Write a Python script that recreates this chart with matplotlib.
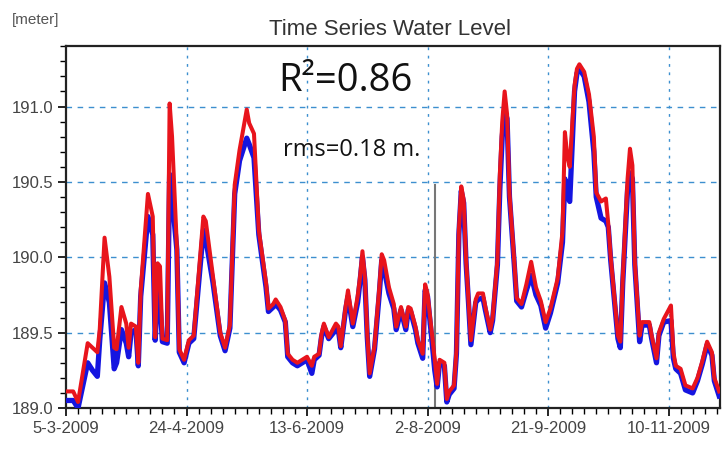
import pandas as pd
import matplotlib.pyplot as plt
import matplotlib.dates as mdates
from matplotlib.ticker import FixedLocator, MultipleLocator, FormatStrFormatter

# days after 5-3-2009
days = [0, 3, 5, 9, 11, 13, 14, 16, 18, 20,
        21, 23, 25, 26, 27, 29, 30, 31, 34, 36,
        37, 38, 39, 40, 42, 43, 44, 46, 47, 49,
        51, 53, 56, 57, 58, 61, 64, 66, 68, 70,
        72, 75, 76, 78, 80, 83, 84, 86, 87, 89,
        91, 92, 94, 96, 98, 100, 102, 103, 105, 106,
        107, 109, 112, 113, 114, 116, 117, 119, 121, 122,
        123, 124, 125, 126, 128, 130, 131, 132, 134, 136,
        137, 139, 141, 142, 143, 145, 146, 148, 149, 150,
        152, 153, 154, 155, 157, 158, 159, 161, 162, 163,
        164, 165, 166, 167, 168, 170, 171, 173, 174, 176,
        177, 179, 180, 181, 182, 183, 184, 186, 187, 189,
        191, 193, 195, 197, 199, 201, 204, 206, 207, 208,
        209, 211, 212, 213, 215, 217, 219, 220, 222, 224,
        225, 226, 228, 229, 230, 231, 233, 234, 235, 236,
        238, 239, 242, 243, 245, 246, 248, 251, 252, 253,
        255, 257, 260, 262, 264, 266, 268, 269, 271]

# red line
observed = [189.11, 189.11, 189.04, 189.43, 189.40, 189.37, 189.52, 190.13, 189.87, 189.40,
            189.39, 189.67, 189.56, 189.40, 189.56, 189.54, 189.30, 189.78, 190.42, 190.27,
            189.47, 189.96, 189.94, 189.46, 189.45, 191.02, 190.80, 190.07, 189.39, 189.32,
            189.45, 189.48, 190.07, 190.27, 190.24, 189.87, 189.50, 189.40, 189.55, 190.48,
            190.71, 190.98, 190.89, 190.82, 190.18, 189.83, 189.66, 189.69, 189.72, 189.67,
            189.58, 189.36, 189.32, 189.30, 189.32, 189.34, 189.28, 189.34, 189.36, 189.49,
            189.56, 189.47, 189.56, 189.54, 189.41, 189.67, 189.78, 189.56, 189.74, 189.87,
            190.04, 189.87, 189.49, 189.23, 189.41, 189.80, 190.02, 189.98, 189.80, 189.69,
            189.54, 189.67, 189.54, 189.67, 189.66, 189.54, 189.45, 189.36, 189.82, 189.76,
            189.47, 189.32, 189.16, 189.32, 189.30, 189.06, 189.11, 189.15, 189.38, 190.18,
            190.47, 190.38, 189.98, 189.72, 189.45, 189.72, 189.76, 189.76, 189.67, 189.52,
            189.60, 189.98, 190.55, 190.90, 191.10, 190.95, 190.42, 189.97, 189.73, 189.69,
            189.82, 189.97, 189.80, 189.71, 189.57, 189.66, 189.86, 190.17, 190.83, 190.67,
            190.60, 191.14, 191.25, 191.28, 191.23, 191.08, 190.80, 190.43, 190.37, 190.39,
            190.22, 190.00, 189.65, 189.48, 189.44, 189.86, 190.52, 190.72, 190.61, 189.97,
            189.48, 189.57, 189.57, 189.48, 189.33, 189.50, 189.59, 189.68, 189.37, 189.28,
            189.26, 189.15, 189.13, 189.20, 189.31, 189.44, 189.37, 189.20, 189.11]

# blue line
simulated = [189.05, 189.05, 189.00, 189.30, 189.25, 189.21, 189.45, 189.83, 189.70, 189.26,
             189.30, 189.52, 189.43, 189.34, 189.50, 189.52, 189.28, 189.74, 190.27, 190.15,
             189.45, 189.78, 189.70, 189.44, 189.43, 190.55, 190.40, 190.05, 189.37, 189.30,
             189.43, 189.46, 190.00, 190.18, 190.12, 189.83, 189.48, 189.38, 189.53, 190.42,
             190.64, 190.79, 190.75, 190.66, 190.15, 189.80, 189.64, 189.67, 189.69, 189.65,
             189.57, 189.34, 189.30, 189.28, 189.30, 189.32, 189.23, 189.32, 189.35, 189.47,
             189.54, 189.46, 189.52, 189.52, 189.40, 189.65, 189.74, 189.54, 189.70, 189.84,
             190.00, 189.85, 189.47, 189.21, 189.39, 189.76, 189.98, 189.92, 189.76, 189.66,
             189.52, 189.65, 189.52, 189.65, 189.64, 189.52, 189.43, 189.33, 189.78, 189.74,
             189.42, 189.25, 189.14, 189.30, 189.28, 189.04, 189.09, 189.13, 189.36, 190.15,
             190.44, 190.36, 189.96, 189.70, 189.42, 189.70, 189.72, 189.73, 189.65, 189.50,
             189.58, 189.95, 190.45, 190.80, 190.97, 190.92, 190.40, 189.95, 189.71, 189.67,
             189.78, 189.88, 189.75, 189.68, 189.53, 189.63, 189.83, 190.10, 190.52, 190.41,
             190.37, 191.10, 191.22, 191.25, 191.20, 191.03, 190.70, 190.40, 190.26, 190.24,
             190.20, 189.98, 189.63, 189.46, 189.40, 189.83, 190.45, 190.56, 190.52, 189.95,
             189.44, 189.55, 189.55, 189.46, 189.30, 189.48, 189.57, 189.58, 189.33, 189.26,
             189.23, 189.12, 189.10, 189.18, 189.29, 189.42, 189.35, 189.18, 189.08]

tick_dates = ['2009-03-05', '2009-04-24', '2009-06-13', '2009-08-02', '2009-09-21', '2009-11-10']
tick_labels = ['5-3-2009', '24-4-2009', '13-6-2009', '2-8-2009', '21-9-2009', '10-11-2009']

start = pd.Timestamp('2009-03-05')
dates = start + pd.to_timedelta(days, unit='D')
end = start + pd.Timedelta(days=271.4)

plt.rcParams['font.family'] = ['Liberation Sans', 'DejaVu Sans']

fig = plt.figure(figsize=(7.22, 4.5), dpi=100)
ax = fig.add_axes([0.0914, 0.0933, 0.906, 0.804])

grid_col = '#3d8fcf'
for v in [189.5, 190.0, 190.5, 191.0]:
    ax.axhline(v, color=grid_col, lw=1, ls=(0, (4, 4)), zorder=1)
for d in tick_dates[1:]:
    ax.axvline(pd.Timestamp(d), color=grid_col, lw=1, ls=(0, (2, 4)), zorder=1)

ax.plot(dates, simulated, color='#1515e0', lw=3.8, zorder=3)
ax.plot(dates, observed, color='#e8141c', lw=2.9, zorder=4)

# marker line near 5-8-2009
ax.plot([start + pd.Timedelta(days=153)] * 2, [189.0, 190.48], color='#777777', lw=1.5, zorder=2)

ax.set_xlim(start, end)
ax.set_ylim(189.0, 191.4)

ax.set_xticks([pd.Timestamp(d) for d in tick_dates])
ax.set_xticklabels(tick_labels)
minor = [mdates.date2num(start + pd.Timedelta(days=5 * i)) for i in range(55)]
ax.xaxis.set_minor_locator(FixedLocator(minor))
ax.set_yticks([189.0, 189.5, 190.0, 190.5, 191.0])
ax.yaxis.set_major_formatter(FormatStrFormatter('%.1f'))
ax.yaxis.set_minor_locator(MultipleLocator(0.1))

ax.tick_params(which='major', length=6, width=1.2, labelsize=12, labelcolor='#444444', pad=3)
ax.tick_params(which='minor', length=4, width=1.0)
for s in ax.spines.values():
    s.set_linewidth(1.6)
    s.set_color('#222222')

fig.text(0.54, 0.935, 'Time Series Water Level', ha='center', va='center', fontsize=16, color='#333333')
fig.text(0.016, 0.955, '[meter]', ha='left', va='center', fontsize=11, color='#555555')
fig.text(0.386, 0.82, 'R²=0.86', ha='left', va='center', fontsize=27.5, family=['Open Sans', 'DejaVu Sans'], color='#111111')
fig.text(0.392, 0.667, 'rms=0.18 m.', ha='left', va='center', fontsize=17, family=['Open Sans', 'DejaVu Sans'], color='#111111')

fig.savefig('out.png', dpi=100)
